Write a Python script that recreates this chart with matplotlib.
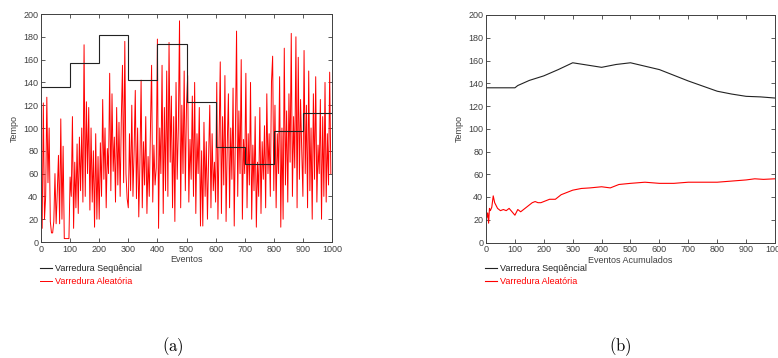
import numpy as np
import matplotlib.pyplot as plt

plt.rcParams['font.family'] = ['Liberation Sans', 'DejaVu Sans']
plt.rcParams['mathtext.fontset'] = 'cm'

# (a) tempo por evento
seq_edges = [0, 100, 200, 300, 400, 500, 600, 700, 800, 900, 1000]
seq_levels = [136, 157, 182, 142, 174, 123, 83, 68, 97, 113]

rand_step = 4
rand_values = [
    32, 12, 122, 20, 40, 127, 52, 100, 18, 8, 8, 18, 60, 16, 44, 76, 16, 108, 20, 84, 3, 3, 3, 3, 3,
    57, 40, 110, 12, 70, 30, 86, 25, 92, 45, 100, 35, 173, 40, 123, 60, 118, 28, 100, 35, 80, 13, 95, 20, 75,
    20, 87, 40, 125, 55, 100, 30, 82, 60, 148, 45, 130, 62, 92, 35, 118, 50, 105, 40, 108, 155, 52, 176, 60, 38,
    30, 95, 45, 120, 40, 80, 133, 38, 100, 22, 70, 142, 30, 88, 50, 110, 25, 75, 40, 98, 155, 35, 85, 50, 65,
    178, 12, 100, 60, 155, 25, 118, 45, 150, 40, 175, 70, 128, 30, 110, 18, 140, 55, 100, 194, 30, 120, 60, 150, 45,
    120, 146, 35, 90, 55, 128, 40, 140, 25, 95, 60, 118, 14, 80, 14, 105, 40, 88, 20, 75, 120, 30, 95, 45, 70,
    35, 140, 20, 90, 158, 25, 110, 50, 146, 18, 85, 130, 30, 100, 55, 135, 14, 95, 185, 40, 115, 60, 160, 20, 90,
    60, 148, 30, 95, 50, 140, 20, 85, 45, 110, 13, 70, 40, 118, 25, 88, 55, 102, 30, 130, 60, 95, 40, 140, 163,
    45, 120, 30, 95, 60, 145, 13, 100, 20, 170, 50, 115, 35, 130, 70, 183, 40, 110, 65, 180, 30, 162, 55, 125, 80,
    40, 168, 60, 120, 30, 150, 45, 100, 20, 130, 55, 145, 35, 85, 60, 125, 20, 110, 40, 140, 35, 95, 50, 149, 60,
]

# (b) tempo medio acumulado
acc_seq_x = [0, 100, 110, 150, 200, 250, 300, 350, 400, 450, 500, 550, 600, 650, 700, 750, 800, 850, 900, 950, 1000]
acc_seq_y = [136, 136, 138, 142.5, 146.5, 152, 158, 156, 154, 156.5, 158, 155, 152, 147, 142, 137.5, 133, 130.5, 128.5, 128, 127]

acc_rand_x = [0, 3, 6, 9, 12, 15, 20, 25, 30, 40, 50, 60, 70, 80, 90, 100, 110, 120, 130, 140, 150, 160,
              170, 180, 190, 200, 220, 240, 260, 280, 300, 330, 360, 400, 430, 460, 500, 550, 600, 650,
              700, 750, 800, 850, 900, 930, 960, 1000]
acc_rand_y = [32, 22, 26, 17, 30, 28, 31, 41, 35, 30, 28, 29, 28, 30, 27, 24, 29, 27, 29, 31, 33, 35,
              36, 35, 35, 36, 38, 38, 42, 44, 46, 47.5, 48, 49, 48, 51, 52, 53, 52, 52,
              53, 53, 53, 54, 55, 56, 55.5, 56]

labels = ["Varredura Seqüêncial", "Varredura Aleatória"]
BLACK = "#222222"
RED = "#ff0000"
AXC = "#404040"


def style_axes(ax, xlabel):
    ax.set_xlim(0, 1000)
    ax.set_ylim(0, 200)
    ax.set_xticks(np.arange(0, 1001, 100))
    ax.set_yticks(np.arange(0, 201, 20))
    ax.tick_params(direction='in', top=True, right=True, labelsize=6.5,
                   colors=AXC, length=3, width=0.6, pad=2)
    for s in ax.spines.values():
        s.set_color(AXC)
        s.set_linewidth(0.7)
    ax.set_xlabel(xlabel, fontsize=6.5, color=AXC, labelpad=1)
    ax.set_ylabel("Tempo", fontsize=6.5, color=AXC, labelpad=3)


fig = plt.figure(figsize=(7.78, 3.58), dpi=100)

ax1 = fig.add_axes([41 / 778, 1 - 242 / 358, 291 / 778, 228 / 358])
ax1.stairs(seq_levels, seq_edges, color=BLACK, linewidth=0.8, baseline=None,
           label=labels[0], zorder=3)
rand_x = np.arange(len(rand_values)) * rand_step
ax1.plot(rand_x, rand_values, color=RED, linewidth=0.7, label=labels[1], zorder=2)
style_axes(ax1, "Eventos")

ax2 = fig.add_axes([486 / 778, 1 - 242.5 / 358, 289 / 778, 227.5 / 358])
ax2.plot(acc_seq_x, acc_seq_y, color=BLACK, linewidth=0.8, label=labels[0])
ax2.plot(acc_rand_x, acc_rand_y, color=RED, linewidth=0.8, label=labels[1])
style_axes(ax2, "Eventos Acumulados")

for ax, x0 in [(ax1, 40), (ax2, 485)]:
    h, l = ax.get_legend_handles_labels()
    fig.legend(h, l, loc='upper left', bbox_to_anchor=(x0 / 778, 1 - 264 / 358),
               frameon=False, fontsize=6.5, handlelength=1.3, handletextpad=0.35,
               labelspacing=0.45, borderpad=0, borderaxespad=0, labelcolor='linecolor')

fig.text(173 / 778, 1 - 347 / 358, r'$\mathrm{(a)}$', fontsize=12, ha='center', va='center')
fig.text(620 / 778, 1 - 347 / 358, r'$\mathrm{(b)}$', fontsize=12, ha='center', va='center')

fig.savefig("out.png", dpi=100)
